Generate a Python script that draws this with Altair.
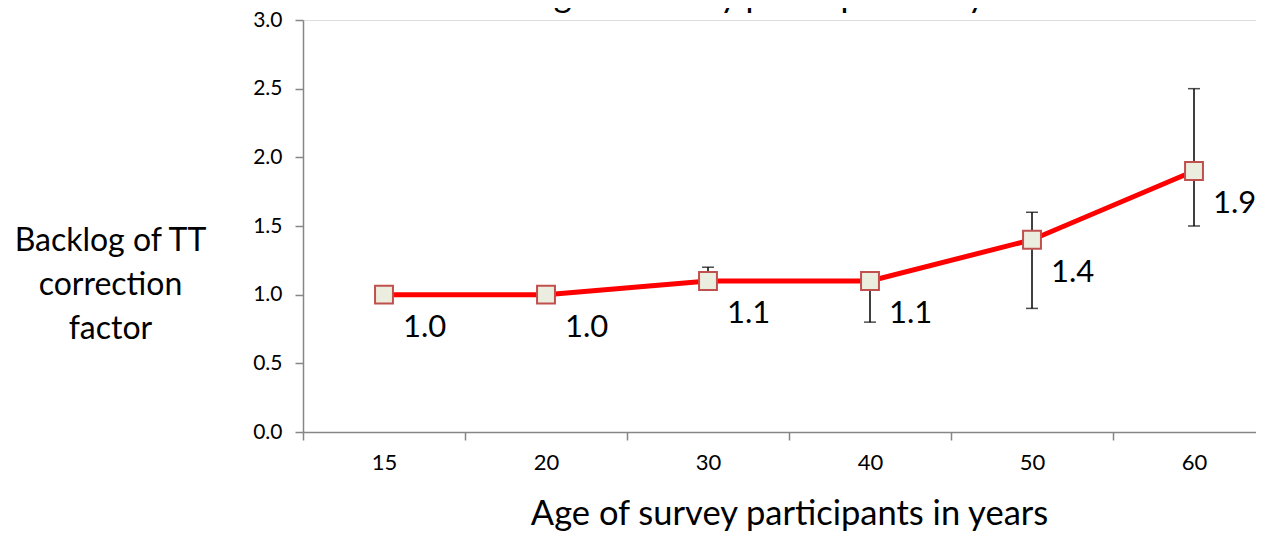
import altair as alt
import pandas as pd

ages = ["15", "20", "30", "40", "50", "60"]
factor = [1.0, 1.0, 1.1, 1.1, 1.4, 1.9]
err_low = [None, None, 1.1, 0.8, 0.9, 1.5]
err_high = [None, None, 1.2, 1.1, 1.6, 2.5]
y_ticks = [0.0, 0.5, 1.0, 1.5, 2.0, 2.5, 3.0]

df = pd.DataFrame({"age": ages, "factor": factor, "lo": err_low, "hi": err_high})
df_err = df.dropna()
df_caps = pd.DataFrame({
    "age": list(df_err["age"]) * 2,
    "cap": list(df_err["lo"]) + list(df_err["hi"]),
})

FONT = "Lato"
GREY = "#868686"

x_enc = alt.X(
    "age:N",
    sort=ages,
    scale=alt.Scale(type="band", range=[0, 972], paddingInner=0, paddingOuter=0),
    axis=alt.Axis(
        title="Age of survey participants in years",
        titleFontSize=34.5, titleFont=FONT, titleFontWeight="normal", titleColor="black",
        titleX=486, titleY=92, titleBaseline="alphabetic", titleAlign="center",
        labelAngle=0, labelFontSize=22, labelFont=FONT, labelColor="black", labelPadding=12,
        tickBand="extent", tickSize=8, tickColor=GREY, domainColor=GREY,
        domainWidth=1.5, tickWidth=1.5, grid=False,
    ),
)

y_scale = alt.Scale(domain=[0, 3], nice=False, zero=True)
y_axis = alt.Axis(
    values=y_ticks, format=".1f",
    title=["Backlog of TT", "correction", "factor"],
    titleAngle=0, titleAlign="center", titleBaseline="middle",
    titleX=-193, titleY=220, titleFontSize=32, titleFont=FONT, titleFontWeight="normal",
    titleColor="black", titleLineHeight=44,
    labelFontSize=21, labelFont=FONT, labelColor="black", labelPadding=13,
    tickSize=8, tickColor=GREY, domainColor=GREY, domainWidth=1.5, tickWidth=1.5, grid=False,
)

base = alt.Chart(df)

line = base.mark_line(color="#FF0000", strokeWidth=5).encode(
    x=x_enc, y=alt.Y("factor:Q", scale=y_scale, axis=y_axis)
)

rules = alt.Chart(df_err).mark_rule(color="black", strokeWidth=1.5).encode(
    x=alt.X("age:N", sort=ages), y="lo:Q", y2="hi:Q"
)

caps = alt.Chart(df_caps).mark_tick(color="black", size=12, thickness=1.5, orient="horizontal").encode(
    x=alt.X("age:N", sort=ages), y="cap:Q"
)

points = base.mark_square(size=320, fill="#EBEEDE", stroke="#C0504D", strokeWidth=2, opacity=1).encode(
    x=alt.X("age:N", sort=ages), y="factor:Q"
)

labels = base.mark_text(fontSize=31, font=FONT, color="black", dx=19, dy=33, align="left", baseline="middle").encode(
    x=alt.X("age:N", sort=ages), y="factor:Q", text=alt.Text("factor:Q", format=".1f")
)

top_title = alt.Chart(pd.DataFrame({"t": ["Age of survey participants in years"]})).mark_text(
    fontSize=34.5, font=FONT, color="black", align="center", baseline="alphabetic"
).encode(x=alt.value(486), y=alt.value(-13), text="t:N")

chart = alt.layer(line, rules, caps, points, labels, top_title).properties(
    width=953, height=412,
    autosize=alt.AutoSizeParams(type="none"),
    padding={"left": 295, "top": 12, "right": 0, "bottom": 102},
).configure_view(stroke=None).configure(font=FONT)

chart.save("out.html", embed_options={"renderer": "svg", "actions": False})
